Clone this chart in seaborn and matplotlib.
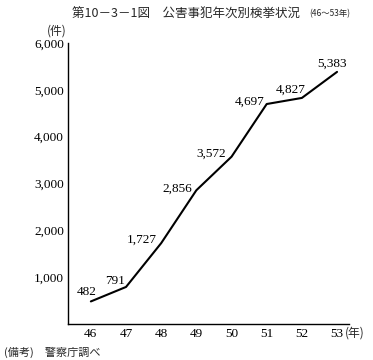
import matplotlib
matplotlib.use("Agg")
import matplotlib.pyplot as plt
import seaborn as sns
import pandas as pd

# 公害事犯年次別検挙状況 (昭和46～53年)
years = [46, 47, 48, 49, 50, 51, 52, 53]
cases = [482, 791, 1727, 2856, 3572, 4697, 4827, 5383]
# label offsets in pixels (dx, dy) relative to each point
label_dx = [-4, -11, -19, -19, -20, -17, -11, -5]
label_dy = [9, 6, 3, 2, 3, 2, 8, 8]
y_ticks = [1000, 2000, 3000, 4000, 5000, 6000]
y_ticklabels = ["1,000", "2,000", "3,000", "4,000", "5,000", "6,000"]

df = pd.DataFrame({"year": years, "cases": cases})

sns.set_theme(style="white")
jp = ["Noto Sans CJK JP", "DejaVu Sans"]
num = ["Liberation Serif", "DejaVu Serif"]

fig = plt.figure(figsize=(3.73, 3.60), dpi=100)
ax = fig.add_axes([68 / 373, 1 - 324 / 360, (349 - 68) / 373, (324 - 43) / 360])

sns.lineplot(data=df, x="year", y="cases", color="black", linewidth=1.5, ax=ax)

for x, y, dx, dy in zip(years, cases, label_dx, label_dy):
    ax.annotate(f"{y:,}", (x, y), xytext=(dx, dy), textcoords="offset pixels",
                ha="center", va="center", fontsize=9.5, family=num, color="black")

ax.set_xlim(45.35, 53.34)
ax.set_ylim(0, 6000)
ax.set_xticks(years)
ax.set_xticklabels([str(y) for y in years], family=num, fontsize=9.5)
ax.set_yticks(y_ticks)
ax.set_yticklabels(y_ticklabels, family=num, fontsize=9.5)
ax.tick_params(axis="both", direction="in", length=4, width=0.8, color="black",
               labelcolor="black", pad=3)
ax.set_xlabel("")
ax.set_ylabel("")
sns.despine(ax=ax)
for s in ["left", "bottom"]:
    ax.spines[s].set_color("black")
    ax.spines[s].set_linewidth(1.0)
ax.grid(False)

fig.text(345 / 373, 1 - 333 / 360, "(年)", family=jp, fontsize=8.5,
         ha="left", va="center")
fig.text(57 / 373, 1 - 31 / 360, "(件)", family=jp, fontsize=8.5,
         ha="center", va="center")
fig.text(72 / 373, 1 - 14 / 360, "第10－3－1図　公害事犯年次別検挙状況",
         family=jp, fontsize=9, ha="left", va="center")
fig.text(309 / 373, 1 - 14 / 360, "(46～53年)", family=jp, fontsize=6,
         ha="left", va="center")
fig.text(4 / 373, 1 - 352 / 360, "(備考)　警察庁調べ", family=jp, fontsize=8,
         ha="left", va="center")

fig.savefig("out.png", dpi=100)
